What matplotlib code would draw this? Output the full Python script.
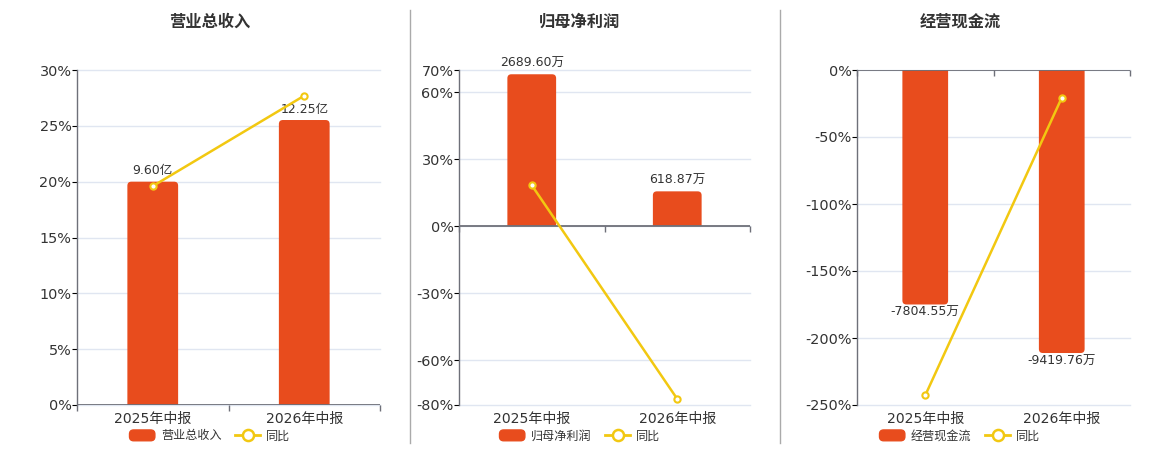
import matplotlib
matplotlib.use('Agg')
import matplotlib.pyplot as plt
from matplotlib.patches import FancyBboxPatch, Rectangle, Patch
from matplotlib.lines import Line2D
from matplotlib.legend_handler import HandlerPatch

plt.rcParams['font.family'] = ['DejaVu Sans', 'Noto Sans CJK SC']

# data
periods = ['2025年中报', '2026年中报']
titles = ['营业总收入', '归母净利润', '经营现金流']
units = ['亿', '万', '万']

revenue = [9.60, 12.25]            # 亿
revenue_yoy = [19.6, 27.7]         # %
profit = [2689.60, 618.87]         # 万
profit_yoy = [18.4, -77.3]         # %
cashflow = [-7804.55, -9419.76]    # 万
cashflow_yoy = [-242.8, -20.7]     # %

pct_ticks = [
    [0, 5, 10, 15, 20, 25, 30],
    [-80, -60, -30, 0, 30, 60, 70],
    [-250, -200, -150, -100, -50, 0],
]

# layout (pixels) and the scale of the hidden bar axis (value per 1 %)
W, H = 1160, 450
axes_px = [(77, 380), (459, 750), (857, 1130)]
centers_px = [210, 580, 960]
bar_scale = [0.48, 39.5, 44.6]

BAR = '#E84C1D'
LINE = '#F2C811'
AXIS = '#6E7079'
GRID = '#E0E6F1'
TXT = '#333333'

fig = plt.figure(figsize=(W / 100, H / 100), dpi=100)


def round_top(ax, bars, r_px=4):
    # swap each bar for one rounded box that runs past its base, clipped at the base
    inv = ax.transData.inverted()
    p0 = inv.transform((0, 0))
    p1 = inv.transform((1, 1))
    dx, dy = p1[0] - p0[0], p1[1] - p0[1]
    ext = 2 * r_px * dy
    for rect in bars:
        rect.set_visible(False)
        x, y = rect.get_x(), rect.get_y()
        w, h = rect.get_width(), rect.get_height()
        if h >= 0:
            y0, hh = y - ext, h + ext
            clip = Rectangle((x - w, y), 3 * w, h * 2, transform=ax.transData)
        else:
            y0, hh = y + h, -h + ext
            clip = Rectangle((x - w, y + 2 * h), 3 * w, -2 * h, transform=ax.transData)
        box = FancyBboxPatch((x, y0), w, hh,
                             boxstyle=f'round,pad=0,rounding_size={r_px * dx}',
                             mutation_aspect=dy / dx, lw=0,
                             fc=rect.get_facecolor(), zorder=2)
        ax.add_patch(box)
        box.set_clip_path(clip)


def rounded_handle(legend, orig_handle, xdescent, ydescent, width, height, fontsize):
    return FancyBboxPatch((-xdescent, -ydescent), width, height,
                          boxstyle='round,pad=0,rounding_size=3')


panels = [
    (revenue, revenue_yoy),
    (profit, profit_yoy),
    (cashflow, cashflow_yoy),
]

x = list(range(len(periods)))

for i, (vals, yoy) in enumerate(panels):
    left, right = axes_px[i]
    rect = [left / W, 45 / H, (right - left) / W, 335 / H]
    lo, hi = min(pct_ticks[i]), max(pct_ticks[i])
    k = bar_scale[i]

    # bar axis (below): grid, bars, category labels
    axb = fig.add_axes(rect)
    axb.set_xlim(-0.5, 1.5)
    axb.set_ylim(lo * k, hi * k)
    axb.set_yticks([t * k for t in pct_ticks[i]])
    axb.grid(axis='y', color=GRID, lw=1)
    for gl in axb.get_ygridlines():
        gl.set_clip_on(False)
    axb.set_axisbelow(True)
    axb.set_xticks(x)
    axb.set_xticklabels(periods)
    axb.tick_params(axis='x', length=0, pad=5.3, labelsize=10.1, labelcolor=TXT)
    axb.tick_params(left=False, labelleft=False)
    for s in axb.spines.values():
        s.set_visible(False)

    bars = axb.bar(x, vals, width=0.335, color=BAR)
    round_top(axb, bars)
    for xi, v in zip(x, vals):
        if v >= 0:
            axb.annotate(f'{v:.2f}{units[i]}', (xi, v), xytext=(0, 3),
                         textcoords='offset points', ha='center', va='bottom',
                         fontsize=9, color=TXT, zorder=5)
        else:
            axb.annotate(f'{v:.2f}{units[i]}', (xi, v), xytext=(0, -1),
                         textcoords='offset points', ha='center', va='top',
                         fontsize=9, color=TXT, zorder=5)

    # percent axis (above): yoy line and its ticks
    axp = axb.twinx()
    axp.set_xlim(-0.5, 1.5)
    axp.set_ylim(lo, hi)
    axp.yaxis.tick_left()
    axp.set_yticks(pct_ticks[i])
    axp.set_yticklabels([f'{t}%' for t in pct_ticks[i]])
    axp.tick_params(axis='y', length=0, pad=4, labelsize=10.4, labelcolor=TXT)
    for name, s in axp.spines.items():
        s.set_visible(name == 'left')
    axp.spines['left'].set_color(AXIS)
    axp.spines['left'].set_linewidth(1)

    axp.axhline(0, color=AXIS, lw=1.3, zorder=3)
    axp.plot([-0.5, 0.5, 1.5], [0, 0, 0], ls='none', marker=3, ms=4,
             mew=1, color=AXIS, zorder=3, clip_on=False)
    axp.plot(x, yoy, color=LINE, lw=1.8, marker='o', ms=4.5, mfc='white',
             mec=LINE, mew=1.5, zorder=4, clip_on=False)

    cx = centers_px[i] / W
    fig.text(cx, 1 - 22 / H, titles[i], ha='center', va='center',
             fontsize=11.7, fontweight='bold', color=TXT,
             family=['Noto Sans CJK SC', 'DejaVu Sans'])

    handles = [
        Patch(color=BAR, label=titles[i]),
        Line2D([], [], color=LINE, lw=2, marker='o', ms=8, mfc='white',
               mec=LINE, mew=1.8, label='同比'),
    ]
    leg = fig.legend(handles=handles, loc='center', ncol=2, frameon=False,
                     bbox_to_anchor=(cx, 1 - 436 / H),
                     handler_map={Patch: HandlerPatch(patch_func=rounded_handle)},
                     handlelength=2.1, handleheight=1.0, handletextpad=0.5,
                     columnspacing=1.1, borderaxespad=0, borderpad=0,
                     prop={'family': ['Noto Sans CJK SC', 'DejaVu Sans'], 'size': 8.7})
    for t in leg.get_texts():
        t.set_color(TXT)

for xs in (410, 780):
    fig.add_artist(Line2D([xs / W, xs / W], [1 - 10 / H, 1 - 443 / H],
                          transform=fig.transFigure, color='#AAAAAA', lw=1))

fig.savefig('out.png', dpi=100)
